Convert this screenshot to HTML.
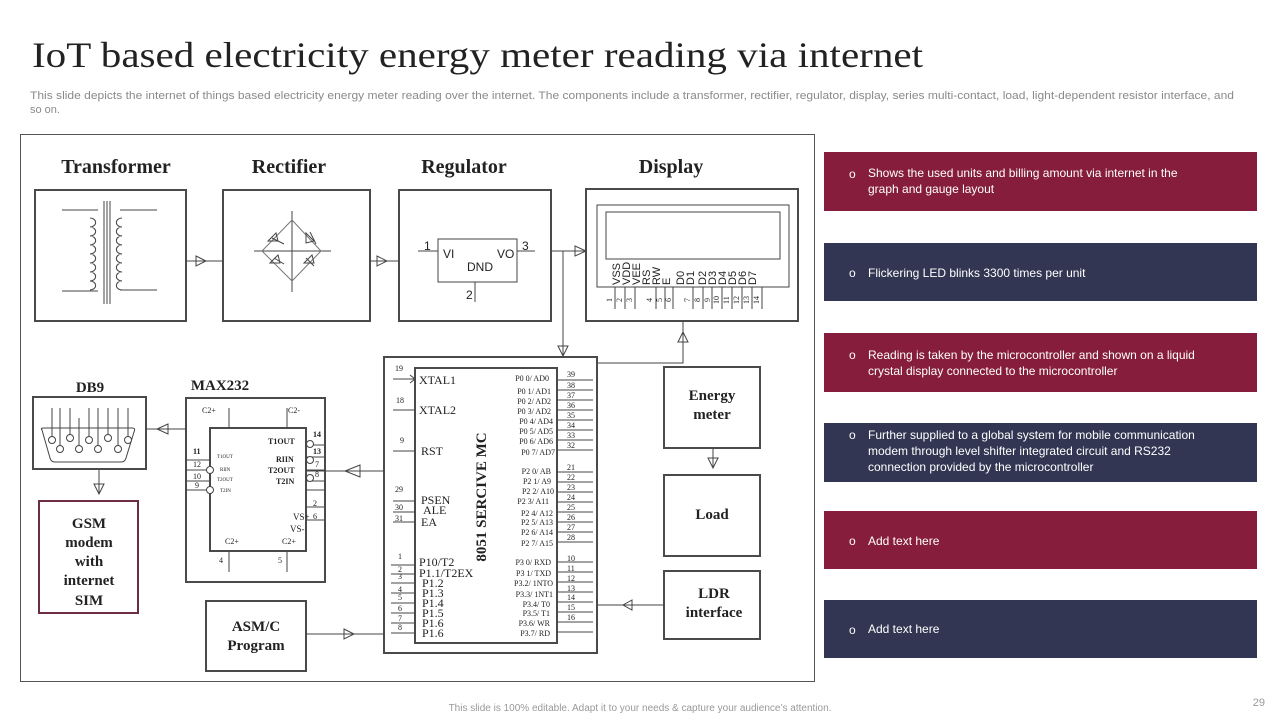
<!DOCTYPE html>
<html><head><meta charset="utf-8"><style>
html,body{margin:0;padding:0;background:#fff;}
svg{display:block;}
.s{font-family:"Liberation Serif",serif;}
.a{font-family:"Liberation Sans",sans-serif;}
</style></head><body>
<svg width="1280" height="720" viewBox="0 0 1280 720" xmlns="http://www.w3.org/2000/svg">
<text x="32" y="67" class="s" font-size="36" fill="#222" textLength="891" lengthAdjust="spacingAndGlyphs">IoT based electricity energy meter reading via internet</text>
<text x="30" y="99" class="a" font-size="11" fill="#8a8a8a" textLength="1204" lengthAdjust="spacingAndGlyphs">This slide depicts the internet of things based electricity energy meter reading over the internet. The components include a transformer, rectifier, regulator, display, series multi-contact, load, light-dependent resistor interface, and</text>
<text x="30" y="113" class="a" font-size="11" fill="#8a8a8a">so on.</text>

<g fill="none" stroke="#444" stroke-width="1">
<rect x="20.5" y="134.5" width="794" height="547" stroke="#555"/>
</g>
<g class="s" font-weight="bold" font-size="20" fill="#222" text-anchor="middle">
<text x="116" y="173">Transformer</text><text x="289" y="173">Rectifier</text><text x="464" y="173">Regulator</text><text x="671" y="173">Display</text>
<text x="90" y="392" font-size="15">DB9</text><text x="220" y="390" font-size="15">MAX232</text>
</g>
<g fill="none" stroke="#4a4a4a" stroke-width="2">
<rect x="35" y="190" width="151" height="131"/><rect x="223" y="190" width="147" height="131"/><rect x="399" y="190" width="152" height="131"/><rect x="586" y="189" width="212" height="132"/>
<rect x="664" y="367" width="96" height="81"/><rect x="664" y="475" width="96" height="81"/><rect x="664" y="571" width="96" height="68"/>
<rect x="384" y="357" width="213" height="296"/><rect x="415" y="368" width="142" height="275"/>
<rect x="186" y="398" width="139" height="184"/><rect x="210" y="428" width="96" height="123"/>
<rect x="33" y="397" width="113" height="72"/><rect x="206" y="601" width="100" height="70"/>
</g>
<rect x="39" y="501" width="99" height="112" fill="none" stroke="#6b2d3f" stroke-width="2"/>
<g fill="none" stroke="#444" stroke-width="1">
<!-- transformer -->
<path d="M62 210H98M62 291H98M120 210H157M120 290H157"/>
<path d="M104 201V304M107 201V304M110 201V304"/>
<path d="M90 218a5 4 0 0 1 0 9a5 4 0 0 1 0 9a5 4 0 0 1 0 9a5 4 0 0 1 0 9a5 4 0 0 1 0 9a5 4 0 0 1 0 9a5 4 0 0 1 0 9a5 4 0 0 1 0 9"/>
<path d="M122 218a5 4 0 0 0 0 9a5 4 0 0 0 0 9a5 4 0 0 0 0 9a5 4 0 0 0 0 9a5 4 0 0 0 0 9a5 4 0 0 0 0 9a5 4 0 0 0 0 9a5 4 0 0 0 0 9"/>
<!-- rectifier -->
<path d="M292 211V292M254 251H331"/>
<path d="M292 220L321 251L292 281L262 251Z" stroke="#777"/>
<path d="M268 241l8-8 2 8zM306 233l8 8-8 2zM270 263l8-8 2 8zM304 263l8-8 2 8z"/>
<path d="M272 238l12 6M310 232l6 12M274 258l10 6M306 258l8 8"/>
<!-- connectors top -->
<path d="M186 261H223M196 256l10 5-10 5z"/>
<path d="M370 261H399M377 256l10 5-10 5z"/>
<!-- regulator -->
<rect x="438" y="239" width="79" height="43"/>
<path d="M418 251H438M517 251H535M475 282V302"/>
<path d="M551 251H586M575 246l11 5-11 5zM563 251V356M558 346l5 10 5-10z"/>
<!-- display -->
<rect x="597" y="205" width="192" height="82"/><rect x="606" y="212" width="174" height="47"/>
<path d="M615 287V309M625 287V309M635 287V309M656 287V309M665 287V309M673 287V309M693 287V309M703 287V309M712 287V309M722 287V309M732 287V309M742 287V309M752 287V309M762 287V309"/>
<path d="M683 321V363H597M678 342l5-10 5 10z"/>
<!-- right column -->
<path d="M713 448V468M708 458l5 10 5-10z"/>
<path d="M664 605H597M632 600l-9 5 9 5z"/>
<!-- ASM -->
<path d="M306 634H384M344 629l10 5-10 5z"/>
<!-- MC to MAX -->
<path d="M306 471H384M360 465l-15 6 15 6z"/>
<!-- MAX to DB9 -->
<path d="M186 429H146M168 424l-11 5 11 5z"/>
<path d="M99 469V494M94 484l5 10 5-10z"/>
<!-- DB9 -->
<path d="M42 430Q40 428 44 428H132Q136 428 134 432L126 458Q125 462 121 462H55Q51 462 50 458Z"/>
<path d="M52 408V437M60 408V446M70 408V437M79 418V446M89 408V437M98 408V446M108 408V437M118 408V446M128 408V437"/>
<g fill="#fff"><circle cx="52" cy="440" r="3.5"/><circle cx="70" cy="438" r="3.5"/><circle cx="89" cy="440" r="3.5"/><circle cx="108" cy="438" r="3.5"/><circle cx="128" cy="440" r="3.5"/><circle cx="60" cy="449" r="3.5"/><circle cx="79" cy="449" r="3.5"/><circle cx="98" cy="449" r="3.5"/><circle cx="118" cy="449" r="3.5"/></g>
<!-- MAX232 pins -->
<path d="M229 408V428M287 408V428M229 551V572M287 551V572"/>
<path d="M186 460H210M186 470H208M186 481H210M186 490H208M306 445H325M306 457H325M306 470H325M306 481H325M306 490H325M306 507H325M306 520H325"/>
<g fill="#fff"><circle cx="210" cy="470" r="3.5"/><circle cx="210" cy="490" r="3.5"/><circle cx="310" cy="444" r="3.5"/><circle cx="310" cy="460" r="3.5"/><circle cx="310" cy="478" r="3.5"/></g>
<!-- MC left pins -->
<path d="M393 379H415M410 375l5 4-5 4M393 410H415M393 451H415M393 501H415M393 512H415M393 522H415M391 565H415M391 574H415M391 583H415M391 593H415M391 603H415M391 613H415M391 623H415M391 633H415"/>
<!-- MC right pins -->
<path d="M557 380H593M557 390H593M557 400H593M557 410H593M557 420H593M557 430H593M557 440H593M557 450H593M557 472H593M557 482H593M557 492H593M557 502H593M557 512H593M557 522H593M557 532H593M557 542H593M557 562H593M557 572H593M557 582H593M557 592H593M557 602H593M557 612H593M557 622H593M557 632H593"/>
</g>
<!-- regulator text -->
<g class="a" font-size="12" fill="#222"><text x="424" y="250">1</text><text x="443" y="258">VI</text><text x="497" y="258">VO</text><text x="522" y="250">3</text><text x="467" y="271">DND</text><text x="466" y="299">2</text></g>
<!-- display labels -->
<g class="a" font-size="11" fill="#222">
<g transform="translate(620,285) rotate(-90)"><text x="0" y="0">VSS</text></g>
<g transform="translate(630,285) rotate(-90)"><text>VDD</text></g>
<g transform="translate(640,285) rotate(-90)"><text>VEE</text></g>
<g transform="translate(650,285) rotate(-90)"><text>RS</text></g>
<g transform="translate(660,285) rotate(-90)"><text>RW</text></g>
<g transform="translate(670,285) rotate(-90)"><text>E</text></g>
<g transform="translate(684,285) rotate(-90)"><text>D0</text></g>
<g transform="translate(694,285) rotate(-90)"><text>D1</text></g>
<g transform="translate(706,285) rotate(-90)"><text>D2</text></g>
<g transform="translate(716,285) rotate(-90)"><text>D3</text></g>
<g transform="translate(726,285) rotate(-90)"><text>D4</text></g>
<g transform="translate(736,285) rotate(-90)"><text>D5</text></g>
<g transform="translate(746,285) rotate(-90)"><text>D6</text></g>
<g transform="translate(756,285) rotate(-90)"><text>D7</text></g>
</g>
<g class="s" font-size="8" fill="#222">
<g transform="translate(612,302) rotate(-90)"><text>1</text></g><g transform="translate(622,302) rotate(-90)"><text>2</text></g><g transform="translate(632,302) rotate(-90)"><text>3</text></g><g transform="translate(652,302) rotate(-90)"><text>4</text></g><g transform="translate(662,302) rotate(-90)"><text>5</text></g><g transform="translate(671,302) rotate(-90)"><text>6</text></g><g transform="translate(690,302) rotate(-90)"><text>7</text></g><g transform="translate(700,302) rotate(-90)"><text>8</text></g><g transform="translate(710,302) rotate(-90)"><text>9</text></g><g transform="translate(719,304) rotate(-90)"><text>10</text></g><g transform="translate(729,304) rotate(-90)"><text>11</text></g><g transform="translate(739,304) rotate(-90)"><text>12</text></g><g transform="translate(749,304) rotate(-90)"><text>13</text></g><g transform="translate(759,304) rotate(-90)"><text>14</text></g>
</g>
<!-- box labels -->
<g class="s" font-weight="bold" font-size="15" fill="#222" text-anchor="middle">
<text x="712" y="400">Energy</text><text x="712" y="419">meter</text>
<text x="712" y="519">Load</text>
<text x="714" y="598">LDR</text><text x="714" y="617">interface</text>
<text x="256" y="631">ASM/C</text><text x="256" y="650">Program</text>
<text x="89" y="528">GSM</text><text x="89" y="547">modem</text><text x="89" y="566">with</text><text x="89" y="585">internet</text><text x="89" y="605">SIM</text>
</g>
<!-- MAX232 text -->
<g class="s" font-size="8" fill="#222">
<text x="202" y="413">C2+</text><text x="288" y="413">C2-</text>
<text x="268" y="444" font-weight="bold">T1OUT</text><text x="276" y="462" font-weight="bold">RIIN</text><text x="268" y="473" font-weight="bold">T2OUT</text><text x="276" y="484" font-weight="bold">T2IN</text>
<text x="293" y="520" font-size="9">VS+</text><text x="290" y="532" font-size="9">VS-</text>
<text x="225" y="544">C2+</text><text x="282" y="544">C2+</text>
<text x="219" y="563">4</text><text x="278" y="563">5</text>
<text x="313" y="437" font-weight="bold">14</text><text x="313" y="454" font-weight="bold">13</text><text x="315" y="467">7</text><text x="315" y="477">8</text><text x="313" y="506">2</text><text x="313" y="519">6</text>
<text x="193" y="454" font-weight="bold">11</text><text x="193" y="467">12</text><text x="193" y="479">10</text><text x="195" y="488">9</text>
<text x="217" y="458" font-size="5">T1OUT</text><text x="220" y="471" font-size="5">RIIN</text><text x="217" y="481" font-size="5">T2OUT</text><text x="220" y="492" font-size="5">T2IN</text>
</g>
<!-- MC text -->
<g class="s" fill="#222" font-size="12">
<text x="419" y="384">XTAL1</text><text x="419" y="414">XTAL2</text><text x="421" y="455">RST</text>
<text x="421" y="504">PSEN</text><text x="423" y="514">ALE</text><text x="421" y="526">EA</text>
<text x="419" y="566">P10/T2</text><text x="419" y="577">P1.1/T2EX</text><text x="422" y="587">P1.2</text><text x="422" y="597">P1.3</text><text x="422" y="607">P1.4</text><text x="422" y="617">P1.5</text><text x="422" y="627">P1.6</text><text x="422" y="637">P1.6</text>
</g>
<g class="s" fill="#222" font-size="8">
<text x="395" y="371">19</text><text x="396" y="403">18</text><text x="400" y="443">9</text><text x="395" y="492">29</text><text x="395" y="510">30</text><text x="395" y="521">31</text>
<text x="398" y="559">1</text><text x="398" y="572">2</text><text x="398" y="579">3</text><text x="398" y="592">4</text><text x="398" y="600">5</text><text x="398" y="611">6</text><text x="398" y="621">7</text><text x="398" y="630">8</text>
</g>
<g class="s" fill="#222" font-size="8" text-anchor="end">
<text x="549" y="381">P0 0/ AD0</text><text x="551" y="394">P0 1/ AD1</text><text x="551" y="404">P0 2/ AD2</text><text x="551" y="414">P0 3/ AD2</text><text x="553" y="424">P0 4/ AD4</text><text x="553" y="434">P0 5/ AD5</text><text x="553" y="444">P0 6/ AD6</text><text x="555" y="455">P0 7/ AD7</text>
<text x="551" y="474">P2 0/ AB</text><text x="551" y="484">P2 1/ A9</text><text x="554" y="494">P2 2/ A10</text><text x="549" y="504">P2 3/ A11</text><text x="553" y="516">P2 4/ A12</text><text x="553" y="525">P2 5/ A13</text><text x="553" y="535">P2 6/ A14</text><text x="553" y="546">P2 7/ A15</text>
<text x="551" y="565">P3 0/ RXD</text><text x="551" y="576">P3 1/ TXD</text><text x="553" y="586">P3.2/ 1NTO</text><text x="553" y="597">P3.3/ 1NT1</text><text x="550" y="607">P3.4/ T0</text><text x="550" y="616">P3.5/ T1</text><text x="550" y="626">P3.6/ WR</text><text x="550" y="636">P3.7/ RD</text>
</g>
<g class="s" fill="#222" font-size="8">
<text x="567" y="377">39</text><text x="567" y="388">38</text><text x="567" y="398">37</text><text x="567" y="408">36</text><text x="567" y="418">35</text><text x="567" y="428">34</text><text x="567" y="438">33</text><text x="567" y="448">32</text>
<text x="567" y="470">21</text><text x="567" y="480">22</text><text x="567" y="490">23</text><text x="567" y="500">24</text><text x="567" y="510">25</text><text x="567" y="520">26</text><text x="567" y="530">27</text><text x="567" y="540">28</text>
<text x="567" y="561">10</text><text x="567" y="571">11</text><text x="567" y="581">12</text><text x="567" y="591">13</text><text x="567" y="600">14</text><text x="567" y="610">15</text><text x="567" y="620">16</text>
</g>
<g transform="translate(486,497) rotate(-90)"><text class="s" font-weight="bold" font-size="15" fill="#222" text-anchor="middle">8051 SERCIVE  MC</text></g>

<!-- right cards -->
<rect x="824" y="152" width="433" height="59" fill="#861d3c"/>
<rect x="824" y="243" width="433" height="58" fill="#323652"/>
<rect x="824" y="333" width="433" height="59" fill="#861d3c"/>
<rect x="824" y="423" width="433" height="59" fill="#323652"/>
<rect x="824" y="511" width="433" height="58" fill="#861d3c"/>
<rect x="824" y="600" width="433" height="58" fill="#323652"/>
<g class="a" font-size="12" fill="#fff">
<text x="849" y="178">o</text><text x="868" y="177">Shows the used units and billing amount via internet in the</text><text x="868" y="193">graph and gauge layout</text>
<text x="849" y="277">o</text><text x="868" y="277">Flickering LED blinks 3300 times per unit</text>
<text x="849" y="359">o</text><text x="868" y="359">Reading is taken by the microcontroller and shown on a liquid</text><text x="868" y="375">crystal display connected to the microcontroller</text>
<text x="849" y="439">o</text><text x="868" y="439">Further supplied to a global system for mobile communication</text><text x="868" y="455">modem through level shifter integrated circuit and RS232</text><text x="868" y="471">connection provided by the microcontroller</text>
<text x="849" y="545">o</text><text x="868" y="545">Add text here</text>
<text x="849" y="634">o</text><text x="868" y="633">Add text here</text>
</g>
<text x="640" y="711" class="a" font-size="10" fill="#999" text-anchor="middle">This slide is 100% editable. Adapt it to your needs &amp; capture your audience’s attention.</text>
<text x="1265" y="706" class="a" font-size="11" fill="#999" text-anchor="end">29</text>
</svg>
</body></html>
